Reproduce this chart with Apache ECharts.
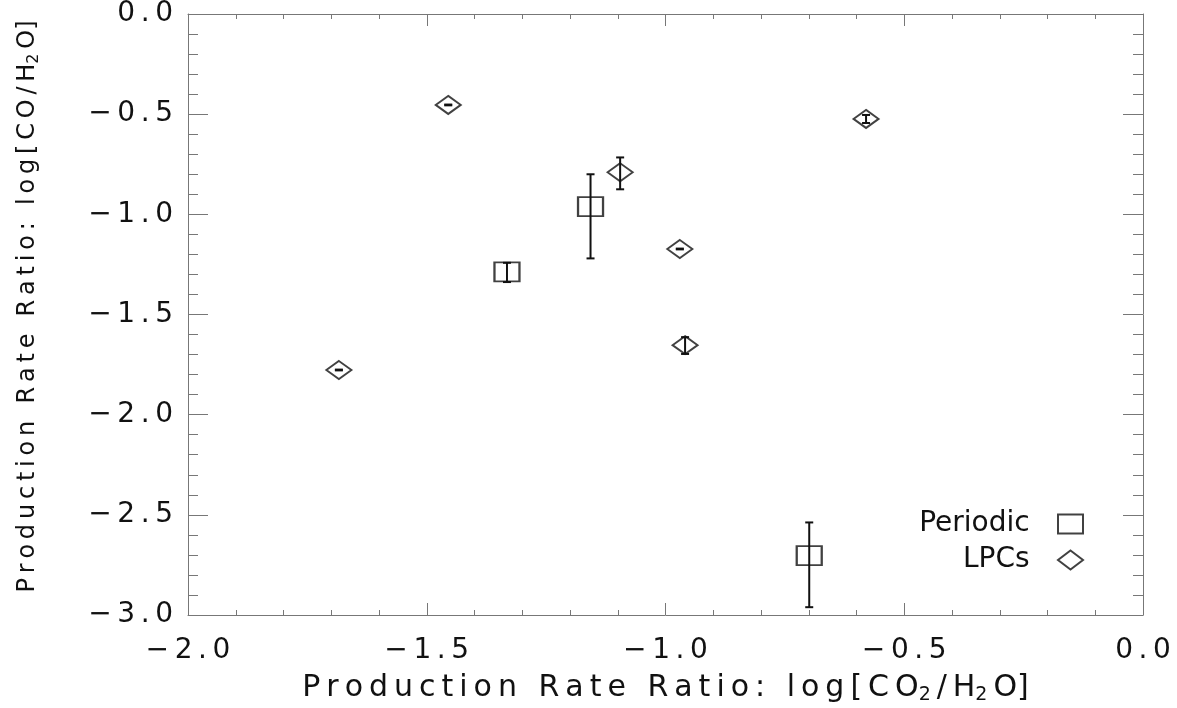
<!DOCTYPE html>
<html>
<head>
<meta charset="utf-8">
<script src="https://cdn.jsdelivr.net/npm/echarts@6/dist/echarts.min.js"></script>
<style>
  html, body { margin: 0; padding: 0; background: #fff; }
  #chart { width: 1177px; height: 708px; }
</style>
</head>
<body>
<div id="chart"></div>
<script>
// Periodic comets (squares)
const periodicX = [-1.332, -1.157, -0.699];
const periodicY = [-1.287, -0.962, -2.704];
const periodicLow = [-1.338, -1.220, -2.961];
const periodicHigh = [-1.242, -0.800, -2.538];

// LPCs (diamonds)
const lpcX = [-1.684, -1.455, -1.095, -0.970, -0.959, -0.580];
const lpcY = [-1.777, -0.454, -0.790, -1.173, -1.653, -0.524];
const lpcLow = [-1.779, -0.456, -0.875, -1.175, -1.697, -0.544];
const lpcHigh = [-1.775, -0.452, -0.716, -1.171, -1.613, -0.504];

const FONT = "DejaVu Sans";
const SP = "\u2009";

// wide letter spacing like the original plot font
function spaced(s) {
  return s.split("").join(SP);
}

function fmtTick(v) {
  let s = Math.abs(v).toFixed(1);
  if (v < -1e-9) s = "\u2212" + s;
  return spaced(s);
}

function pts(xs, ys) {
  return xs.map((x, i) => [x, ys[i]]);
}
function bars(xs, lo, hi) {
  return xs.map((x, i) => [x, lo[i], hi[i]]);
}

function errRender(params, api) {
  const x = api.value(0);
  const lo = api.coord([x, api.value(1)]);
  const hi = api.coord([x, api.value(2)]);
  const cap = 4;
  const style = { stroke: "#111", lineWidth: 2 };
  return {
    type: "group",
    children: [
      { type: "line", shape: { x1: lo[0], y1: lo[1], x2: hi[0], y2: hi[1] }, style },
      { type: "line", shape: { x1: lo[0] - cap, y1: lo[1], x2: lo[0] + cap, y2: lo[1] }, style },
      { type: "line", shape: { x1: hi[0] - cap, y1: hi[1], x2: hi[0] + cap, y2: hi[1] }, style },
    ],
  };
}

const axisLine = { show: true, onZero: false, lineStyle: { color: "#777", width: 1 } };
const labelStyle = { fontFamily: FONT, fontSize: 28, color: "#111" };

const xName =
  "{t|" + spaced("Production Rate Ratio: log[CO") + "}{s|2}{t|" + SP + "/" + SP + "H}{s|2}{t|" + SP + "O]}";
const yName =
  "{t|" + spaced("Production Rate Ratio: log[CO/H") + "}{s|2}{t|" + SP + "O]}";
const xRich = {
  t: { fontFamily: FONT, fontSize: 30, color: "#111" },
  s: { fontFamily: FONT, fontSize: 19, color: "#111", padding: [15, 0, 0, 0] },
};
const yRich = {
  t: { fontFamily: FONT, fontSize: 24, color: "#111" },
  s: { fontFamily: FONT, fontSize: 16, color: "#111", padding: [12, 0, 0, 0] },
};

function xAxisDef(pos, show) {
  return {
    type: "value",
    position: pos,
    min: -2.0,
    max: 0.0,
    interval: 0.5,
    axisLine,
    splitLine: { show: false },
    axisTick: { show: true, inside: true, length: 12, lineStyle: { color: "#777" } },
    minorTick: { show: true, splitNumber: 5, length: 5, lineStyle: { color: "#777" } },
    axisLabel: show ? Object.assign({ margin: 22, formatter: fmtTick }, labelStyle) : { show: false },
  };
}
function yAxisDef(pos, show) {
  return {
    type: "value",
    position: pos,
    min: -3.0,
    max: 0.0,
    interval: 0.5,
    axisLine,
    splitLine: { show: false },
    axisTick: { show: true, inside: true, length: 20, lineStyle: { color: "#777" } },
    minorTick: { show: true, splitNumber: 5, length: 10, lineStyle: { color: "#777" } },
    axisLabel: show ? Object.assign({ margin: 15, formatter: fmtTick }, labelStyle) : { show: false },
  };
}

const xMain = xAxisDef("bottom", true);
xMain.name = xName;
xMain.nameLocation = "middle";
xMain.nameGap = 56;
xMain.nameTextStyle = { rich: xRich };

const yMain = yAxisDef("left", true);
yMain.name = yName;
yMain.nameLocation = "middle";
yMain.nameGap = 146;
yMain.nameTextStyle = { rich: yRich, padding: [0, 0, 0, 16] };

const chart = echarts.init(document.getElementById("chart"), null, { renderer: "canvas" });

chart.setOption({
  backgroundColor: "#fff",
  animation: false,
  grid: { left: 188, right: 34, top: 14, bottom: 93, outerBoundsMode: "none", containLabel: false },
  xAxis: [xMain, xAxisDef("top", false)],
  yAxis: [yMain, yAxisDef("right", false)],
  legend: {
    orient: "vertical",
    right: 88,
    top: 505,
    align: "right",
    itemWidth: 25,
    itemHeight: 19,
    itemGap: 8,
    formatter: (n) => n + "  \u2009",
    textStyle: { fontFamily: FONT, fontSize: 28, color: "#111" },
    data: ["Periodic", "LPCs"],
  },
  series: [
    {
      name: "periodicErr",
      type: "custom",
      renderItem: errRender,
      data: bars(periodicX, periodicLow, periodicHigh),
      z: 3,
    },
    {
      name: "lpcErr",
      type: "custom",
      renderItem: errRender,
      data: bars(lpcX, lpcLow, lpcHigh),
      z: 3,
    },
    {
      name: "Periodic",
      type: "scatter",
      symbol: "rect",
      symbolSize: [25, 19],
      itemStyle: { color: "rgba(0,0,0,0)", borderColor: "#111", borderWidth: 2 },
      data: pts(periodicX, periodicY),
      z: 4,
    },
    {
      name: "LPCs",
      type: "scatter",
      symbol: "diamond",
      symbolSize: [25, 18],
      itemStyle: { color: "rgba(0,0,0,0)", borderColor: "#111", borderWidth: 2 },
      data: pts(lpcX, lpcY),
      z: 4,
    },
  ],
});
</script>
</body>
</html>
